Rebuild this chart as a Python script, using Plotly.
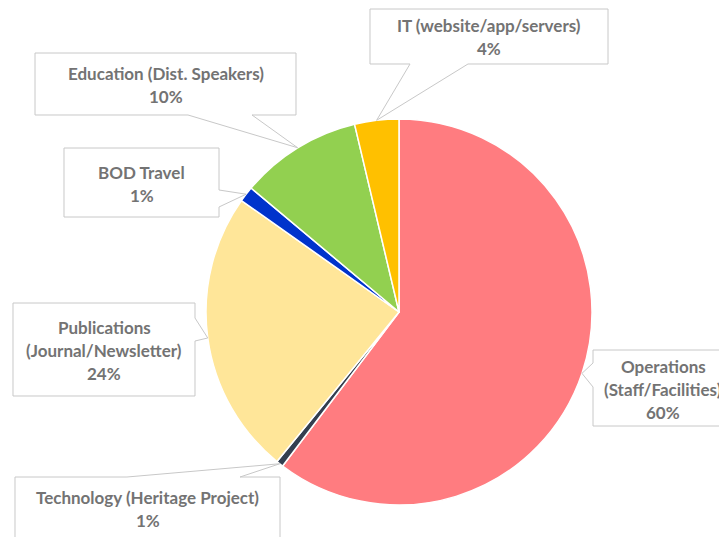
import math
import plotly.graph_objects as go

# ---- data ----
categories = ["Operations", "Technology", "Publications", "BOD Travel", "Education", "IT"]
label_lines = [
    ["Operations", "(Staff/Facilities)"],
    ["Technology (Heritage Project)"],
    ["Publications", "(Journal/Newsletter)"],
    ["BOD Travel"],
    ["Education (Dist. Speakers)"],
    ["IT (website/app/servers)"],
]
values = [60.3, 0.6, 23.9, 1.3, 10.2, 3.7]
colors = ["#FF7C80", "#333F50", "#FFE699", "#0033CC", "#92D050", "#FFC000"]

# ---- layout geometry (pixels) ----
W, H = 719, 537
CX, CY, R = 399, 312, 193

# callout boxes: (x0, y0, x1, y1, pointer side, base a, base b)
boxes = [
    (593, 350, 733, 426, "left", 363, 387),
    (15, 477, 280, 560, "top", 127, 240),
    (13, 303, 195, 396, "right", 318, 341),
    (64, 148, 219, 217, "right", 190, 207),
    (35, 53, 296, 115, "bottom", 188, 252),
    (370, 9, 608, 64, "bottom", 410, 468),
]

def px(x):
    return x / W

def py(y):
    return 1 - y / H

fig = go.Figure()
fig.add_trace(go.Pie(
    labels=categories,
    values=values,
    sort=False,
    direction="clockwise",
    rotation=0,
    marker=dict(colors=colors, line=dict(color="white", width=1.5)),
    textinfo="none",
    showlegend=False,
    domain=dict(x=[px(CX - R), px(CX + R)], y=[py(CY + R), py(CY - R)]),
))

total = sum(values)
cum = 0.0
shapes = []
annotations = []
for i, v in enumerate(values):
    mid = (cum + v / 2) / total * 2 * math.pi
    cum += v
    tx = CX + R * math.sin(mid)
    ty = CY - R * math.cos(mid)
    x0, y0, x1, y1, side, a, b = boxes[i]
    if side == "bottom":
        pts = [(x0, y0), (x1, y0), (x1, y1), (b, y1), (tx, ty), (a, y1), (x0, y1)]
    elif side == "top":
        pts = [(x0, y0), (a, y0), (tx, ty), (b, y0), (x1, y0), (x1, y1), (x0, y1)]
    elif side == "right":
        pts = [(x0, y0), (x1, y0), (x1, a), (tx, ty), (x1, b), (x1, y1), (x0, y1)]
    else:  # left
        pts = [(x0, y0), (x1, y0), (x1, y1), (x0, y1), (x0, b), (tx, ty), (x0, a)]
    path = "M " + " L ".join(f"{px(X):.5f},{py(Y):.5f}" for X, Y in pts) + " Z"
    shapes.append(dict(type="path", xref="paper", yref="paper", path=path,
                       fillcolor="white", line=dict(color="#C8C8C8", width=1), layer="above"))

    lines = label_lines[i] + [f"{round(v / total * 100)}%"]
    cx_box = (x0 + x1) / 2
    if i == 1:
        cy_box = 509
    else:
        cy_box = (y0 + y1) / 2 + 1
    spacing = 23
    start = cy_box - spacing * (len(lines) - 1) / 2
    for k, t in enumerate(lines):
        annotations.append(dict(
            x=px(cx_box), y=py(start + k * spacing), xref="paper", yref="paper",
            text=f"<b>{t}</b>", showarrow=False, xanchor="center", yanchor="middle",
            font=dict(family="Lato", size=17, color="#737373"),
        ))

fig.update_layout(
    width=W, height=H,
    margin=dict(l=0, r=0, t=0, b=0),
    paper_bgcolor="white",
    plot_bgcolor="white",
    shapes=shapes,
    annotations=annotations,
)

fig.write_html("out.html", config={"displayModeBar": False})
with open("out.html", "r", encoding="utf-8") as f:
    html = f.read()
html = html.replace("<head>", "<head><style>html,body{margin:0;padding:0;overflow:hidden;}</style>", 1)
with open("out.html", "w", encoding="utf-8") as f:
    f.write(html)
